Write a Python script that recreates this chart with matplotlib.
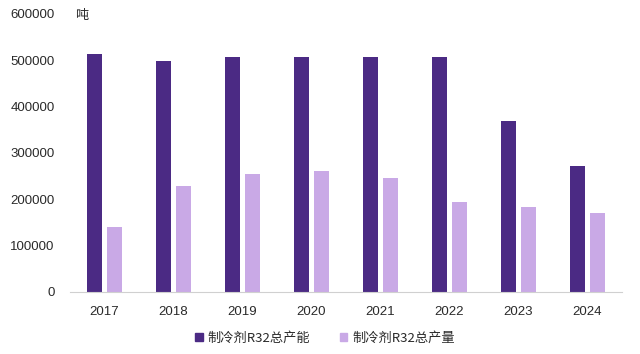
import numpy as np
import matplotlib.pyplot as plt
from matplotlib.patches import Patch

plt.rcParams['font.family'] = ['Liberation Sans', 'Noto Sans CJK SC', 'DejaVu Sans']

years = ['2017', '2018', '2019', '2020', '2021', '2022', '2023', '2024']
capacity = [514000, 499000, 508000, 508000, 508000, 508000, 368000, 273000]
output = [140000, 229000, 255000, 262000, 246000, 194000, 184000, 171000]

dark = '#4b2a84'
light = '#c9a9e6'

fig = plt.figure(figsize=(6.4, 3.54), dpi=100)
ax = fig.add_axes([70 / 640, 1 - 292 / 354, 552 / 640, 278 / 354])

x = np.arange(len(years))
w = 0.22
off = 0.145
ax.bar(x - off, capacity, w, color=dark)
ax.bar(x + off, output, w, color=light)

ax.set_xlim(-0.5, len(years) - 0.5)
ax.set_ylim(0, 600000)
ax.set_yticks(range(0, 600001, 100000))
ax.set_yticklabels([str(v) for v in range(0, 600001, 100000)])
ax.set_xticks(x)
ax.set_xticklabels(years)
ax.tick_params(axis='both', length=0, labelsize=9.5, colors='#2a2a2a')
ax.tick_params(axis='y', pad=11)
ax.tick_params(axis='x', pad=10)
for s in ['top', 'right', 'left']:
    ax.spines[s].set_visible(False)
ax.spines['bottom'].set_color('#d0d0d0')

fig.text(75 / 640, 1 - 15 / 354, '吨', fontsize=9.5, va='center', ha='left',
         family=['Noto Sans CJK SC'], color='#2a2a2a')

handles = [Patch(color=dark), Patch(color=light)]
fig.legend(handles, ['制冷剂R32总产能', '制冷剂R32总产量'],
           loc='center', bbox_to_anchor=(325 / 640, 1 - 338 / 354), ncol=2,
           frameon=False, handlelength=0.6, handleheight=0.6,
           handletextpad=0.4, columnspacing=2.2, labelcolor='#2a2a2a',
           prop={'family': ['Noto Sans CJK SC', 'DejaVu Sans'], 'size': 9.5})

fig.savefig('out.png', dpi=100, facecolor='white')
